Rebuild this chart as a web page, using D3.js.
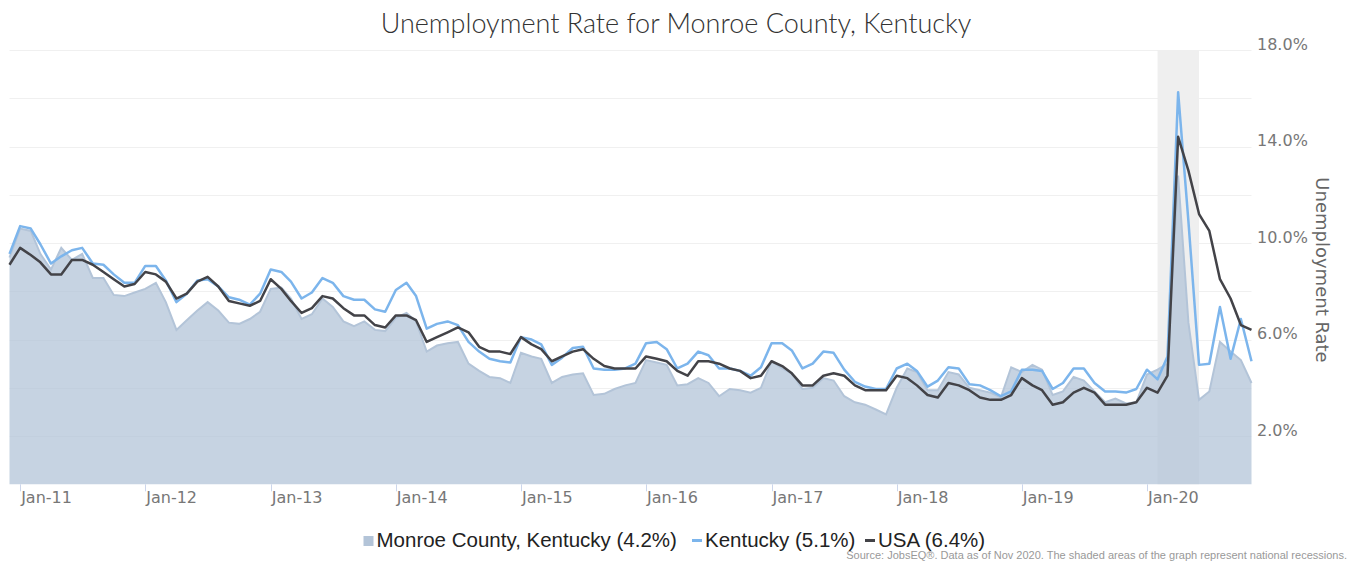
<!DOCTYPE html>
<html>
<head>
<meta charset="utf-8">
<script src="https://cdn.jsdelivr.net/npm/d3@7"></script>
<style>
  body { margin: 0; background: #fff; }
  svg { display: block; }
</style>
</head>
<body>
<svg id="chart" width="1356" height="563"></svg>
<script>
//Monthly series, Dec 2010 through Nov 2020.
const startMonth = '2010-12';
const monroe = [9.4,
    10.6, 10.5, 9.55, 8.9, 9.8, 9.3, 9.55, 8.55, 8.55, 7.85, 7.8, 7.95,
    8.1, 8.35, 7.55, 6.4, 6.8, 7.2, 7.55, 7.2, 6.7, 6.65, 6.85, 7.15,
    8.1, 8.15, 7.7, 6.85, 7.05, 7.7, 7.35, 6.75, 6.55, 6.75, 6.4, 6.35,
    6.9, 7.1, 6.75, 5.5, 5.75, 5.85, 5.9, 5.0, 4.7, 4.45, 4.4, 4.2,
    5.45, 5.3, 5.2, 4.2, 4.45, 4.55, 4.6, 3.7, 3.75, 3.95, 4.1, 4.2,
    5.15, 5.05, 4.95, 4.1, 4.15, 4.4, 4.2, 3.65, 3.95, 3.9, 3.8, 4.0,
    5.1, 4.8, 4.6, 3.95, 4.0, 4.4, 4.3, 3.65, 3.4, 3.3, 3.1, 2.9,
    4.0, 4.8, 4.65, 3.9, 3.9, 4.65, 4.55, 4.0, 3.9, 3.8, 3.6, 4.85,
    4.65, 4.95, 4.75, 3.7, 3.85, 4.45, 4.3, 3.85, 3.4, 3.55, 3.35, 3.4,
    4.55, 4.75, 5.0, 12.8, 6.7, 3.5, 3.85, 5.9, 5.5, 5.15, 4.2];
const kentucky = [9.55,
    10.7, 10.6, 9.95, 9.15, 9.45, 9.7, 9.8, 9.15, 9.1, 8.7, 8.35, 8.35,
    9.05, 9.05, 8.45, 7.55, 7.9, 8.45, 8.5, 8.2, 7.75, 7.65, 7.45, 7.9,
    8.9, 8.8, 8.4, 7.7, 7.95, 8.55, 8.35, 7.8, 7.65, 7.65, 7.25, 7.15,
    8.05, 8.35, 7.8, 6.45, 6.65, 6.75, 6.6, 5.9, 5.5, 5.2, 5.1, 5.05,
    6.1, 6.0, 5.8, 4.95, 5.25, 5.65, 5.7, 4.8, 4.75, 4.75, 4.8, 5.0,
    5.85, 5.9, 5.6, 4.8, 5.0, 5.5, 5.35, 4.8, 4.8, 4.7, 4.5, 4.85,
    5.85, 5.85, 5.55, 4.8, 5.0, 5.5, 5.45, 4.75, 4.25, 4.05, 3.95, 3.95,
    4.8, 5.0, 4.7, 4.05, 4.3, 4.85, 4.8, 4.15, 4.1, 3.9, 3.65, 3.85,
    4.75, 4.75, 4.7, 3.95, 4.2, 4.8, 4.8, 4.2, 3.85, 3.85, 3.8, 3.95,
    4.75, 4.35, 5.3, 16.25, 10.9, 4.95, 5.0, 7.35, 5.2, 6.85, 5.1];
const usa = [9.1,
    9.8, 9.5, 9.2, 8.7, 8.7, 9.3, 9.3, 9.1, 8.8, 8.5, 8.2, 8.3,
    8.8, 8.7, 8.4, 7.7, 7.9, 8.4, 8.6, 8.2, 7.6, 7.5, 7.4, 7.6,
    8.5, 8.1, 7.6, 7.1, 7.3, 7.8, 7.7, 7.3, 7.0, 7.0, 6.6, 6.5,
    7.0, 7.0, 6.8, 5.9, 6.1, 6.3, 6.5, 6.3, 5.7, 5.5, 5.5, 5.4,
    6.1, 5.8, 5.6, 5.1, 5.3, 5.5, 5.6, 5.2, 4.9, 4.8, 4.8, 4.8,
    5.3, 5.2, 5.1, 4.7, 4.5, 5.1, 5.1, 5.0, 4.8, 4.7, 4.4, 4.5,
    5.1, 4.9, 4.6, 4.1, 4.1, 4.5, 4.6, 4.5, 4.1, 3.9, 3.9, 3.9,
    4.5, 4.4, 4.1, 3.7, 3.6, 4.2, 4.1, 3.9, 3.6, 3.5, 3.5, 3.7,
    4.4, 4.1, 3.9, 3.3, 3.4, 3.8, 4.0, 3.8, 3.3, 3.3, 3.3, 3.4,
    4.0, 3.8, 4.5, 14.4, 13.0, 11.2, 10.5, 8.5, 7.7, 6.6, 6.4];
const recessions = [['2020-02', '2020-06']];
const yTicks = [2, 6, 10, 14, 18];
const yGrid = [2, 4, 6, 8, 10, 12, 14, 16, 18];
const seriesNames = ['Monroe County, Kentucky', 'Kentucky', 'USA'];

const parseMonth = d3.timeParse('%Y-%m');
const start = parseMonth(startMonth);
const months = monroe.map((d, i) => d3.timeMonth.offset(start, i));

const svg = d3.select('#chart');
const plot = {left: 9.5, right: 1251.5, top: 50, bottom: 484.3};
const axisFont = '"DejaVu Sans", "Open Sans", sans-serif';

const x = d3.scaleTime()
    .domain(d3.extent(months))
    .range([plot.left, plot.right]);
const y = d3.scaleLinear()
    .domain([0, 18])
    .range([plot.bottom, plot.top]);

//Title.
svg.append('text')
    .attr('x', 676)
    .attr('y', 33)
    .attr('text-anchor', 'middle')
    .style('font-family', 'Lato, "Open Sans", sans-serif')
    .style('font-weight', 300)
    .style('font-size', '27px')
    .style('fill', '#333')
    .text('Unemployment Rate for Monroe County, Kentucky');

//Horizontal grid.
svg.append('g')
    .selectAll('line')
    .data(yGrid)
    .join('line')
    .attr('x1', plot.left)
    .attr('x2', plot.right)
    .attr('y1', d => Math.round(y(d)) + 0.5)
    .attr('y2', d => Math.round(y(d)) + 0.5)
    .style('stroke', '#f0f0f0')
    .style('stroke-width', 1);

//Recession bands.
svg.append('g')
    .selectAll('rect')
    .data(recessions)
    .join('rect')
    .attr('x', d => x(parseMonth(d[0])))
    .attr('y', plot.top)
    .attr('width', d => x(parseMonth(d[1])) - x(parseMonth(d[0])))
    .attr('height', plot.bottom - plot.top)
    .style('fill', '#efefef');

//Monroe County area.
const area = d3.area()
    .x((d, i) => x(months[i]))
    .y0(y(0))
    .y1(d => y(d));
svg.append('path')
    .datum(monroe)
    .attr('d', area)
    .style('fill', '#b3c4d8')
    .style('fill-opacity', 0.75);
svg.append('path')
    .datum(monroe)
    .attr('d', d3.line().x((d, i) => x(months[i])).y(d => y(d)))
    .style('fill', 'none')
    .style('stroke', '#b3c4d8')
    .style('stroke-width', 2);

//Kentucky and USA lines.
const line = d3.line()
    .x((d, i) => x(months[i]))
    .y(d => y(d));
[[kentucky, '#7cb5ec'], [usa, '#434348']].forEach(([data, colour]) => {
    svg.append('path')
        .datum(data)
        .attr('d', line)
        .style('fill', 'none')
        .style('stroke', colour)
        .style('stroke-width', 2.5)
        .style('stroke-linejoin', 'round');
});

//X axis: January ticks with labels to the right.
const years = d3.timeYear.range(d3.timeYear.ceil(months[0]), months[months.length - 1]);
const xAxis = svg.append('g');
xAxis.selectAll('line')
    .data(years)
    .join('line')
    .attr('x1', d => Math.round(x(d)) + 0.5)
    .attr('x2', d => Math.round(x(d)) + 0.5)
    .attr('y1', plot.bottom)
    .attr('y2', plot.bottom + 7)
    .style('stroke', '#ccd6eb');
xAxis.selectAll('text')
    .data(years)
    .join('text')
    .attr('x', d => x(d) + 1)
    .attr('y', 503)
    .style('font-family', axisFont)
    .style('font-size', '16px')
    .style('fill', '#777')
    .text(d3.timeFormat('Jan-%y'));

//Right axis labels.
svg.append('g')
    .selectAll('text')
    .data(yTicks)
    .join('text')
    .attr('x', 1257)
    .attr('y', d => y(d) - 0.5)
    .style('font-family', axisFont)
    .style('font-size', '16px')
    .style('fill', '#777')
    .text(d => d3.format('.1f')(d) + '%');

svg.append('text')
    .attr('transform', 'translate(1316,270) rotate(90)')
    .attr('text-anchor', 'middle')
    .style('font-family', axisFont)
    .style('font-size', '18px')
    .style('fill', '#666')
    .text('Unemployment Rate');

//Legend.
const lastValues = [monroe, kentucky, usa].map(s => s[s.length - 1]);
const legendX = [363.5, 692, 865];
const legend = svg.append('g');
legend.append('rect')
    .attr('x', legendX[0]).attr('y', 536)
    .attr('width', 10).attr('height', 10)
    .style('fill', '#b3c4d8');
legend.append('rect')
    .attr('x', legendX[1]).attr('y', 539)
    .attr('width', 10).attr('height', 3)
    .style('fill', '#7cb5ec');
legend.append('rect')
    .attr('x', legendX[2]).attr('y', 539)
    .attr('width', 10).attr('height', 3)
    .style('fill', '#434348');
legend.selectAll('text')
    .data(seriesNames)
    .join('text')
    .attr('x', (d, i) => legendX[i] + 13)
    .attr('y', 547)
    .style('font-family', '"Liberation Sans Narrow", "Liberation Sans", Arial, sans-serif')
    .style('font-size', '20.5px')
    .style('fill', '#222')
    .text((d, i) => `${d} (${d3.format('.1f')(lastValues[i])}%)`);

//Source note.
svg.append('text')
    .attr('x', 1347)
    .attr('y', 559)
    .attr('text-anchor', 'end')
    .style('font-family', '"Liberation Sans Narrow", "Liberation Sans", Arial, sans-serif')
    .style('font-size', '11px')
    .style('fill', '#999')
    .text('Source: JobsEQ®. Data as of Nov 2020. The shaded areas of the graph represent national recessions.');
</script>
</body>
</html>
